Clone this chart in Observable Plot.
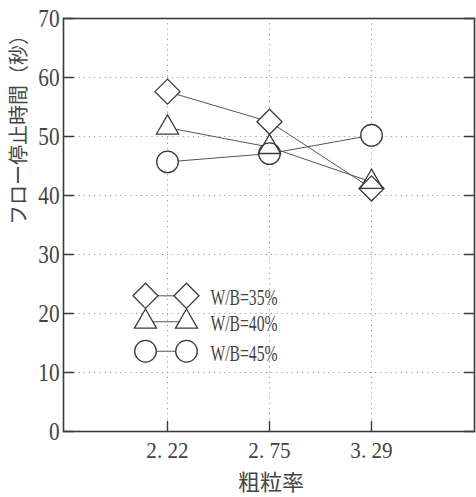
<!DOCTYPE html>
<html>
<head>
<meta charset="utf-8">
<script src="https://cdn.jsdelivr.net/npm/d3@7"></script>
<script src="https://cdn.jsdelivr.net/npm/@observablehq/plot@0.6"></script>
<style>
  body { margin: 0; background: #fff; }
  #chart svg { display: block; }
</style>
</head>
<body>
<div id="chart"></div>
<script>
// 粗粒率 categories and their printed tick labels
const ratios = ["2.22", "2.75", "3.29"];
const ratioLabels = ["2. 22", "2. 75", "3. 29"];
const yTicks = [0, 10, 20, 30, 40, 50, 60, 70];
const gridY = [10, 20, 30, 40, 50, 60];

// フロー停止時間 (秒) for each W/B series
const seriesNames = ["W/B=35%", "W/B=40%", "W/B=45%"];
const wb35 = [57.6, 52.5, 41.2];
const wb40 = [51.5, 48.2, 42.3];
const wb45 = [45.7, 47.1, 50.2];

// vertical placement of the legend rows (in y units)
const legendY = [23.0, 18.6, 13.6];

const seriesValues = [wb35, wb40, wb45];
const symbols = ["diamond2", "triangle", "circle"];
const radii = [11.3, 8.2, 10.8];

const ink = "#3a3a3a";
const tickLine = {draw(ctx, l) { ctx.moveTo(0, 0); ctx.lineTo(0, -l); }};

const rowsOf = i => seriesValues[i].map((v, j) => ({ratio: ratios[j], time: v}));

const marks = [
  // faint dotted grid
  Plot.ruleY(gridY, {stroke: "#9a9a9a", strokeDasharray: "1.2,4", strokeWidth: 1}),
  Plot.ruleX(ratios, {stroke: "#9a9a9a", strokeDasharray: "1.2,4", strokeWidth: 1}),
  // inward ticks on left, right and bottom edges
  Plot.vector(yTicks, {y: d => d, frameAnchor: "left", length: 10, rotate: 90, anchor: "start", shape: tickLine, stroke: ink, strokeWidth: 1.4}),
  Plot.vector(yTicks, {y: d => d, frameAnchor: "right", length: 10, rotate: -90, anchor: "start", shape: tickLine, stroke: ink, strokeWidth: 1.4}),
  Plot.vector(ratios, {x: d => d, frameAnchor: "bottom", length: 10, rotate: 0, anchor: "start", shape: tickLine, stroke: ink, strokeWidth: 1.4}),
  Plot.frame({stroke: ink, strokeWidth: 1.6}),
  // tick labels
  Plot.axisY(yTicks, {tickSize: 0, tickPadding: 4, fontSize: 25, fontFamily: "Liberation Serif", fill: "#444", label: null, className: "ylab"}),
  Plot.axisX(ratios, {tickSize: 0, tickPadding: 10, fontSize: 23, fontFamily: "Liberation Serif", fill: "#444", label: null,
    tickFormat: d => ratioLabels[ratios.indexOf(d)], className: "xlab"}),
  // axis titles
  Plot.text(["フロー停止時間（秒）"], {frameAnchor: "left", dx: -44, rotate: -90, lineAnchor: "middle", fontSize: 20, fontFamily: "Noto Sans CJK JP", fill: "#444"}),
  Plot.text(["粗粒率"], {frameAnchor: "bottom", lineAnchor: "middle", dy: 51, dx: 2, fontSize: 22, fontFamily: "Noto Sans CJK JP", fill: "#444"})
];

// connecting lines
seriesValues.forEach((_, i) => {
  marks.push(Plot.line(rowsOf(i), {x: "ratio", y: "time", stroke: "#555", strokeWidth: 1}));
});
// white backing so lines stop at the marker outlines
seriesValues.forEach((_, i) => {
  marks.push(Plot.dot(rowsOf(i), {x: "ratio", y: "time", symbol: symbols[i], r: radii[i], fill: "white", stroke: "none"}));
});
seriesValues.forEach((_, i) => {
  marks.push(Plot.dot(rowsOf(i), {x: "ratio", y: "time", symbol: symbols[i], r: radii[i], fill: "none", stroke: ink, strokeWidth: 1.3}));
});

// legend inside the plot: marker — marker  label
seriesNames.forEach((name, i) => {
  const row = [{ratio: ratios[0], time: legendY[i]}];
  marks.push(Plot.vector(row, {x: "ratio", y: "time", dx: -22, length: 41, rotate: 90, anchor: "start", shape: tickLine, stroke: "#555", strokeWidth: 1}));
  for (const dx of [-22, 19]) {
    marks.push(Plot.dot(row, {x: "ratio", y: "time", dx, symbol: symbols[i], r: radii[i], fill: "white", stroke: ink, strokeWidth: 1.3}));
  }
  marks.push(Plot.text(row, {x: "ratio", y: "time", dx: 43, dy: 2, text: () => name, textAnchor: "start",
    fontSize: 23, fontFamily: "Liberation Serif", fill: "#444", className: "legtext"}));
});

const chart = Plot.plot({
  width: 476,
  height: 497,
  marginLeft: 63,
  marginRight: 2,
  marginTop: 18,
  marginBottom: 66,
  style: {background: "white", overflow: "visible"},
  x: {type: "point", domain: ratios, padding: 1, axis: null},
  y: {domain: [0, 70], axis: null},
  marks
});

document.getElementById("chart").appendChild(chart);

// narrow the printed glyphs horizontally around each text anchor
const squeeze = (cls, k) => {
  d3.select(chart).selectAll(`.${cls} text`).each(function () {
    const t = this.getAttribute("transform") || "";
    this.setAttribute("transform", `${t} scale(${k},1)`);
  });
};
squeeze("ylab", 0.85);
squeeze("xlab", 0.92);
squeeze("legtext", 0.68);
</script>
</body>
</html>
